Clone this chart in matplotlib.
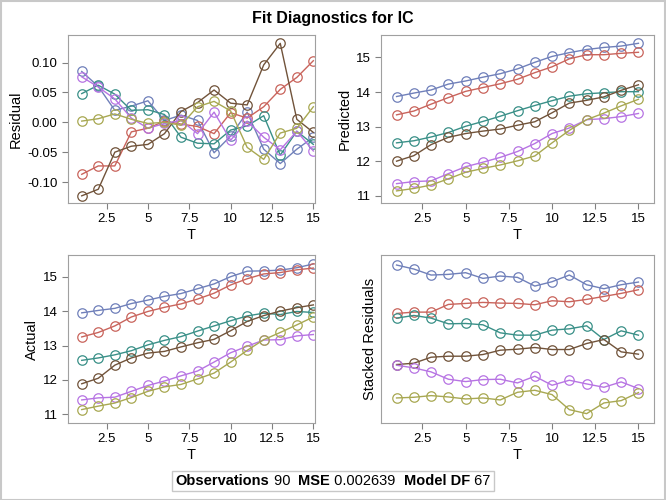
import matplotlib
matplotlib.use("Agg")
import matplotlib.pyplot as plt
from matplotlib.offsetbox import TextArea, HPacker, AnchoredOffsetbox
from matplotlib.patches import Rectangle

plt.rcParams['font.family'] = ['Liberation Sans', 'DejaVu Sans']

T = list(range(1, 16))
names = ["blue", "red", "teal", "brown", "magenta", "olive"]
colors = ["#7080BA", "#C9645C", "#3A9088", "#71533A", "#B774E3", "#A8A852"]

residual = {
    "blue":    [0.085, 0.060, 0.020, 0.027, 0.036, 0.003, 0.012, 0.003, -0.051, -0.023, 0.017, -0.045, -0.069, -0.045, -0.025],
    "red":     [-0.087, -0.073, -0.073, -0.016, -0.010, 0.002, -0.003, -0.007, -0.019, 0.016, 0.007, 0.026, 0.055, 0.075, 0.103],
    "teal":    [0.048, 0.062, 0.047, 0.020, 0.021, 0.013, -0.025, -0.035, -0.036, -0.013, -0.006, 0.011, -0.055, -0.015, -0.037],
    "brown":   [-0.123, -0.112, -0.050, -0.040, -0.037, -0.019, 0.018, 0.033, 0.054, 0.032, 0.029, 0.096, 0.132, 0.005, -0.017],
    "magenta": [0.076, 0.059, 0.039, 0.007, -0.010, -0.002, 0.003, -0.019, 0.017, -0.030, 0.002, -0.025, -0.046, -0.015, -0.048],
    "olive":   [0.002, 0.006, 0.014, 0.005, -0.002, 0.000, -0.005, 0.026, 0.035, 0.019, -0.042, -0.062, -0.018, -0.010, 0.026],
}

predicted = {
    "blue":    [13.87, 13.97, 14.06, 14.23, 14.32, 14.43, 14.53, 14.67, 14.86, 15.03, 15.14, 15.23, 15.29, 15.33, 15.41],
    "red":     [13.34, 13.45, 13.65, 13.84, 14.02, 14.13, 14.24, 14.37, 14.56, 14.73, 14.96, 15.08, 15.08, 15.12, 15.15],
    "teal":    [12.53, 12.59, 12.70, 12.83, 13.01, 13.15, 13.30, 13.46, 13.61, 13.75, 13.88, 13.95, 13.98, 14.01, 14.01],
    "brown":   [12.00, 12.16, 12.48, 12.69, 12.80, 12.87, 12.93, 13.04, 13.14, 13.40, 13.68, 13.76, 13.86, 14.05, 14.21],
    "magenta": [11.35, 11.41, 11.43, 11.64, 11.84, 11.97, 12.11, 12.28, 12.51, 12.80, 12.96, 13.20, 13.23, 13.29, 13.38],
    "olive":   [11.14, 11.21, 11.31, 11.49, 11.68, 11.79, 11.89, 12.01, 12.15, 12.53, 12.89, 13.20, 13.39, 13.60, 13.79],
}

actual = {
    "blue":    [13.95, 14.02, 14.08, 14.22, 14.32, 14.43, 14.51, 14.65, 14.79, 15.00, 15.16, 15.17, 15.19, 15.26, 15.37],
    "red":     [13.25, 13.38, 13.57, 13.83, 13.99, 14.11, 14.21, 14.35, 14.52, 14.76, 14.94, 15.08, 15.12, 15.20, 15.25],
    "teal":    [12.57, 12.64, 12.73, 12.85, 13.02, 13.15, 13.26, 13.42, 13.57, 13.72, 13.86, 13.94, 13.90, 13.99, 13.96],
    "brown":   [11.89, 12.05, 12.43, 12.64, 12.78, 12.83, 12.96, 13.08, 13.18, 13.43, 13.70, 13.87, 14.00, 14.10, 14.18],
    "magenta": [11.42, 11.48, 11.50, 11.67, 11.84, 11.97, 12.12, 12.26, 12.52, 12.79, 12.98, 13.16, 13.17, 13.28, 13.32],
    "olive":   [11.14, 11.24, 11.33, 11.49, 11.67, 11.80, 11.87, 12.03, 12.20, 12.52, 12.86, 13.17, 13.38, 13.60, 13.83],
}

stacked = {
    "blue":    [4.75, 4.63, 4.45, 4.47, 4.52, 4.35, 4.42, 4.38, 4.12, 4.25, 4.45, 4.16, 4.04, 4.16, 4.24],
    "red":     [3.30, 3.34, 3.34, 3.57, 3.60, 3.63, 3.61, 3.60, 3.56, 3.68, 3.65, 3.72, 3.81, 3.90, 4.01],
    "teal":    [3.16, 3.24, 3.16, 2.99, 3.00, 2.96, 2.72, 2.65, 2.65, 2.80, 2.84, 2.93, 2.52, 2.78, 2.65],
    "brown":   [1.77, 1.81, 1.99, 2.02, 2.02, 2.07, 2.20, 2.23, 2.28, 2.22, 2.22, 2.40, 2.52, 2.15, 2.08],
    "magenta": [1.75, 1.67, 1.55, 1.33, 1.26, 1.32, 1.33, 1.22, 1.42, 1.15, 1.30, 1.19, 1.09, 1.25, 1.05],
    "olive":   [0.77, 0.79, 0.84, 0.80, 0.74, 0.77, 0.71, 0.94, 1.00, 0.87, 0.42, 0.30, 0.62, 0.69, 0.93],
}

xticks = [2.5, 5, 7.5, 10, 12.5, 15]
xticklabels = ["2.5", "5", "7.5", "10", "12.5", "15"]

W, H = 666, 500
fig = plt.figure(figsize=(W / 100, H / 100), dpi=100)
fig.patches.append(Rectangle((0.001, 0.001), 0.997, 0.997, transform=fig.transFigure,
                             fill=False, edgecolor="#c8c8c8", linewidth=1.5))


def make_ax(left, top, right, bottom):
    return fig.add_axes([left / W, 1 - bottom / H, (right - left) / W, (bottom - top) / H])


panels = [
    (make_ax(68, 35, 315, 203), residual, "Residual", (0.17, 15.1), (-0.135, 0.146)),
    (make_ax(381, 35, 654, 203), predicted, "Predicted", (0.1, 15.9), (10.79, 15.65)),
    (make_ax(68, 255, 315, 423), actual, "Actual", (0.17, 15.1), (10.75, 15.63)),
    (make_ax(381, 255, 654, 423), stacked, "Stacked Residuals", (0.1, 15.9), (0.02, 5.05)),
]

for ax, data, ylabel, xlim, ylim in panels:
    for name, c in zip(names, colors):
        ax.plot(T, data[name], color=c, linewidth=1.0, marker="o", markersize=6.8,
                markerfacecolor="none", markeredgecolor=c, markeredgewidth=0.9)
    ax.set_xlim(*xlim)
    ax.set_ylim(*ylim)
    ax.set_xticks(xticks)
    ax.set_xticklabels(xticklabels)
    ax.set_xlabel("T", fontsize=10.5, labelpad=2)
    ax.set_ylabel(ylabel, fontsize=10.5, labelpad=3)
    for s in ax.spines.values():
        s.set_color("#a0a0a0")
    ax.tick_params(colors="#808080", labelcolor="black", labelsize=9.5, length=4, width=0.8)

panels[0][0].set_yticks([-0.10, -0.05, 0.0, 0.05, 0.10])
panels[0][0].set_yticklabels(["-0.10", "-0.05", "0.00", "0.05", "0.10"])
for ax in (panels[1][0], panels[2][0]):
    ax.set_yticks([11, 12, 13, 14, 15])
panels[3][0].set_yticks([])

fig.text(0.5, 1 - 18 / H, "Fit Diagnostics for IC", ha="center", va="center",
         fontsize=11.5, fontweight="bold")

parts = [("Observations", "bold"), (" 90  ", "normal"), ("MSE", "bold"),
         (" 0.002639  ", "normal"), ("Model DF", "bold"), (" 67", "normal")]
boxes = [TextArea(t, textprops=dict(fontsize=10.5, fontweight=w)) for t, w in parts]
pack = HPacker(children=boxes, align="baseline", pad=0, sep=0)
anch = AnchoredOffsetbox(loc="center", child=pack, pad=0.25, frameon=True,
                         bbox_to_anchor=(0.5, 1 - 481 / H), bbox_transform=fig.transFigure,
                         borderpad=0)
anch.patch.set_edgecolor("#c8c8c8")
anch.patch.set_linewidth(1.0)
fig.add_artist(anch)

fig.savefig("out.png", dpi=100)
